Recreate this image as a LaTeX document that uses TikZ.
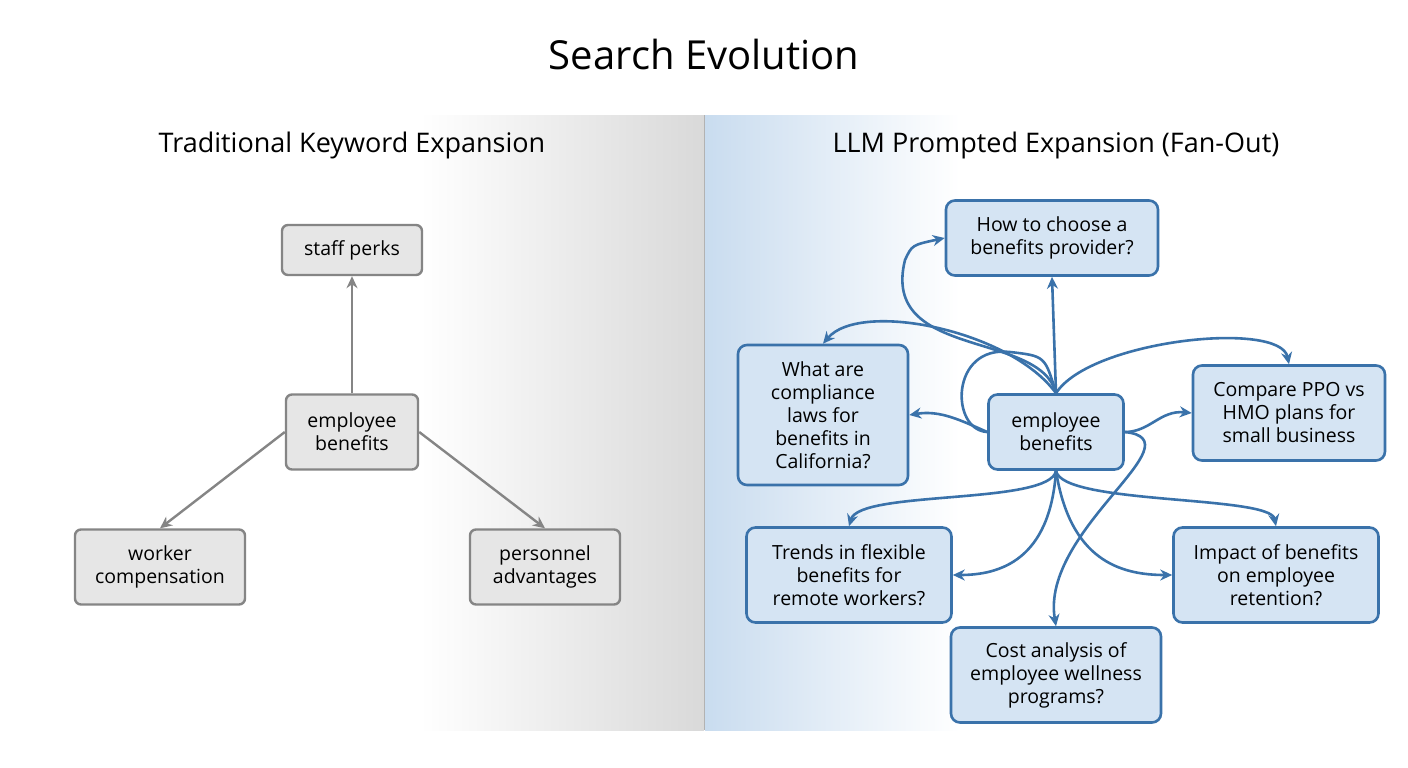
\documentclass[tikz,border=0pt]{standalone}
\usepackage{fontspec}
\setmainfont{Open Sans}
\usetikzlibrary{arrows.meta}
\definecolor{grayfill}{HTML}{E6E6E6}
\definecolor{grayline}{HTML}{858585}
\definecolor{bluefill}{HTML}{D5E4F3}
\definecolor{blueline}{HTML}{3A72AA}
\definecolor{bluebg}{HTML}{C9DCEF}
\definecolor{graybg}{HTML}{D9D9D9}
\tikzset{
  oldbox/.style={draw=grayline, fill=grayfill, line width=2.4pt, rounded corners=6pt,
    align=center, font=\fontsize{19.5}{23}\selectfont, inner sep=0pt},
  newbox/.style={draw=blueline, fill=bluefill, line width=2.6pt, rounded corners=9pt,
    align=center, font=\fontsize{19.5}{23}\selectfont, inner sep=0pt},
  oldarrow/.style={draw=grayline, line width=2.4pt, -{Stealth[length=12pt,width=11pt]}},
  newarrow/.style={draw=blueline, line width=2.6pt, -{Stealth[length=12pt,width=11pt]}}
}
\begin{document}
\begin{tikzpicture}[x=1pt,y=-1pt]
  \useasboundingbox (0,0) rectangle (1408,768);
  \fill[white] (0,0) rectangle (1408,768);

  % panel backgrounds
  \shade[left color=white, right color=graybg] (420,115) rectangle (704,730);
  \shade[left color=bluebg, right color=white] (705,115) rectangle (960,730);
  \draw[gray!60, line width=0.8pt] (704.5,115) -- (704.5,730);

  % titles
  \node (title) at (704,55) {\fontsize{40}{48}\selectfont Search Evolution};
  \node (lefttitle) at (352,145) {\fontsize{27}{32}\selectfont Traditional Keyword Expansion};
  \node (righttitle) at (1056,145) {\fontsize{27}{32}\selectfont LLM Prompted Expansion (Fan-Out)};

  % Traditional side
  \node[oldbox, minimum width=140, minimum height=50] (perks) at (352,250) {staff perks};
  \node[oldbox, minimum width=132, minimum height=75] (oldseed) at (352,432) {employee\\benefits};
  \node[oldbox, minimum width=170, minimum height=75] (worker) at (160,567) {worker\\compensation};
  \node[oldbox, minimum width=150, minimum height=75] (personnel) at (545,567) {personnel\\advantages};
  \draw[oldarrow] (oldseed) -- (perks);
  \draw[oldarrow] (oldseed.west) -- (worker.north);
  \draw[oldarrow] (oldseed.east) -- (personnel.north);

  % Fan-out side
  \node[newbox, minimum width=135, minimum height=75] (seed) at (1056,432) {employee\\benefits};
  \node[newbox, minimum width=212, minimum height=75] (provider) at (1052,238) {How to choose a\\benefits provider?};
  \node[newbox, minimum width=170, minimum height=140] (laws) at (823,415) {What are\\compliance\\laws for\\benefits in\\California?};
  \node[newbox, minimum width=192, minimum height=95] (ppo) at (1289,413) {Compare PPO vs\\HMO plans for\\small business};
  \node[newbox, minimum width=205, minimum height=95] (remote) at (849,575) {Trends in flexible\\benefits for\\remote workers?};
  \node[newbox, minimum width=205, minimum height=95] (retention) at (1276,575) {Impact of benefits\\on employee\\retention?};
  \node[newbox, minimum width=210, minimum height=95] (wellness) at (1056,675) {Cost analysis of\\employee wellness\\programs?};

  \draw[newarrow] (seed.north) -- (provider.south);
  \draw[newarrow] (seed.north) .. controls (1040,330) and (880,360) .. (905,260) .. controls (912,245) .. (provider.west);
  \draw[newarrow] (seed.north) .. controls (1010,330) and (860,300) .. (laws.north);
  \draw[newarrow] (seed.north) .. controls (1090,340) and (1280,320) .. (ppo.north);
  \draw[blueline, line width=2.6pt] (seed.west) .. controls (950,430) and (950,345) .. (1010,352) .. controls (1045,356) .. (seed.north);
  \draw[newarrow] (seed.west) .. controls (960,420) and (940,410) .. (laws.east);
  \draw[newarrow] (seed.east) .. controls (1150,432) and (1160,410) .. (ppo.west);
  \draw[newarrow] (seed.east) .. controls (1200,440) and (1040,530) .. (wellness.north);
  \draw[newarrow] (seed.south) .. controls (1050,505) and (860,490) .. (remote.north);
  \draw[newarrow] (seed.south) .. controls (1050,560) and (1000,575) .. (remote.east);
  \draw[newarrow] (seed.south) .. controls (1062,505) and (1270,495) .. (retention.north);
  \draw[newarrow] (seed.south) .. controls (1070,560) and (1120,575) .. (retention.west);
\end{tikzpicture}
\end{document}
